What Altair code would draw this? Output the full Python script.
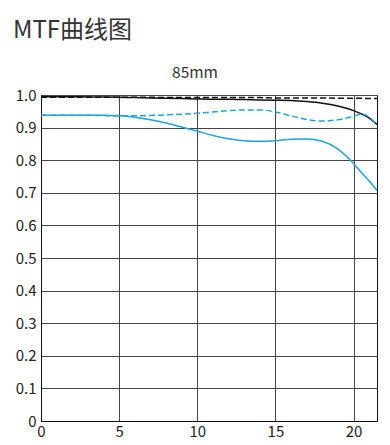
import altair as alt
import pandas as pd

xs = [0, 2, 4, 5, 6, 7, 8, 9, 10, 11, 12, 13, 14, 15, 16, 17, 18, 19, 20, 20.5, 21, 21.5]
black_solid = [0.995, 0.995, 0.994, 0.993, 0.992, 0.991, 0.990, 0.989, 0.988, 0.987, 0.987, 0.986, 0.985, 0.984, 0.983, 0.980, 0.975, 0.966, 0.952, 0.942, 0.929, 0.910]
black_dashed = [0.993, 0.993, 0.993, 0.993, 0.993, 0.993, 0.992, 0.992, 0.992, 0.992, 0.992, 0.992, 0.992, 0.991, 0.991, 0.991, 0.991, 0.990, 0.990, 0.990, 0.989, 0.989]
blue_solid = [0.938, 0.938, 0.938, 0.936, 0.932, 0.924, 0.914, 0.902, 0.889, 0.876, 0.866, 0.860, 0.858, 0.860, 0.864, 0.865, 0.858, 0.834, 0.790, 0.762, 0.736, 0.707]
blue_dashed = [0.938, 0.938, 0.937, 0.936, 0.936, 0.937, 0.939, 0.941, 0.944, 0.948, 0.952, 0.954, 0.954, 0.948, 0.936, 0.925, 0.920, 0.924, 0.935, 0.941, 0.932, 0.907]

series = [
    ("bs", black_solid, "#111111", []),
    ("bd", black_dashed, "#111111", [6, 3]),
    ("cs", blue_solid, "#1fa3dd", []),
    ("cd", blue_dashed, "#1fa3dd", [6, 3]),
]

xscale = alt.Scale(domain=[0, 21.5], nice=False, zero=False)
yscale = alt.Scale(domain=[0, 1], nice=False)

layers = []
for name, vals, color, dash in series:
    df = pd.DataFrame({"x": xs, "y": vals})
    kw = dict(color=color, strokeWidth=1.5, interpolate="monotone", clip=True)
    if dash:
        kw["strokeDash"] = dash
    layers.append(
        alt.Chart(df).mark_line(**kw).encode(
            x=alt.X("x:Q", scale=xscale,
                    axis=alt.Axis(values=[0, 5, 10, 15, 20], title=None, grid=True,
                                  ticks=False, labelPadding=3, labelFontSize=15,
                                  labelColor="#222", domainColor="#111",
                                  gridColor="#444", labelFlush=False, labelFont="Noto Sans CJK SC")),
            y=alt.Y("y:Q", scale=yscale,
                    axis=alt.Axis(values=[0, 0.1, 0.2, 0.3, 0.4, 0.5, 0.6, 0.7, 0.8, 0.9, 1.0],
                                  title=None, grid=True, ticks=False, labelPadding=5,
                                  labelFontSize=15, labelColor="#222", domainColor="#111",
                                  gridColor="#444", labelFont="Noto Sans CJK SC",
                                  labelExpr="datum.value == 0 ? '0' : format(datum.value, '.1f')")),
        )
    )

titles = pd.DataFrame({"t": ["MTF曲线图"]})
main_title = alt.Chart(titles).mark_text(
    align="left", baseline="alphabetic", fontSize=24, color="#333",
    font="Noto Sans CJK SC"
).encode(text="t:N", x=alt.value(-28), y=alt.value(-57))

sub = pd.DataFrame({"t": ["85mm"]})
sub_title = alt.Chart(sub).mark_text(
    align="center", baseline="middle", fontSize=15.5, color="#333",
    font="Noto Sans CJK SC"
).encode(text="t:N", x=alt.value(154), y=alt.value(-22))

chart = alt.layer(*layers, main_title, sub_title).properties(
    width=336, height=326,
    autosize=alt.AutoSizeParams(type="none"),
    padding={"left": 41, "top": 95, "right": 13, "bottom": 24},
    background="white",
).configure_view(stroke="#111", strokeWidth=1)

chart.save("out.html", embed_options={"renderer": "svg", "actions": False})
